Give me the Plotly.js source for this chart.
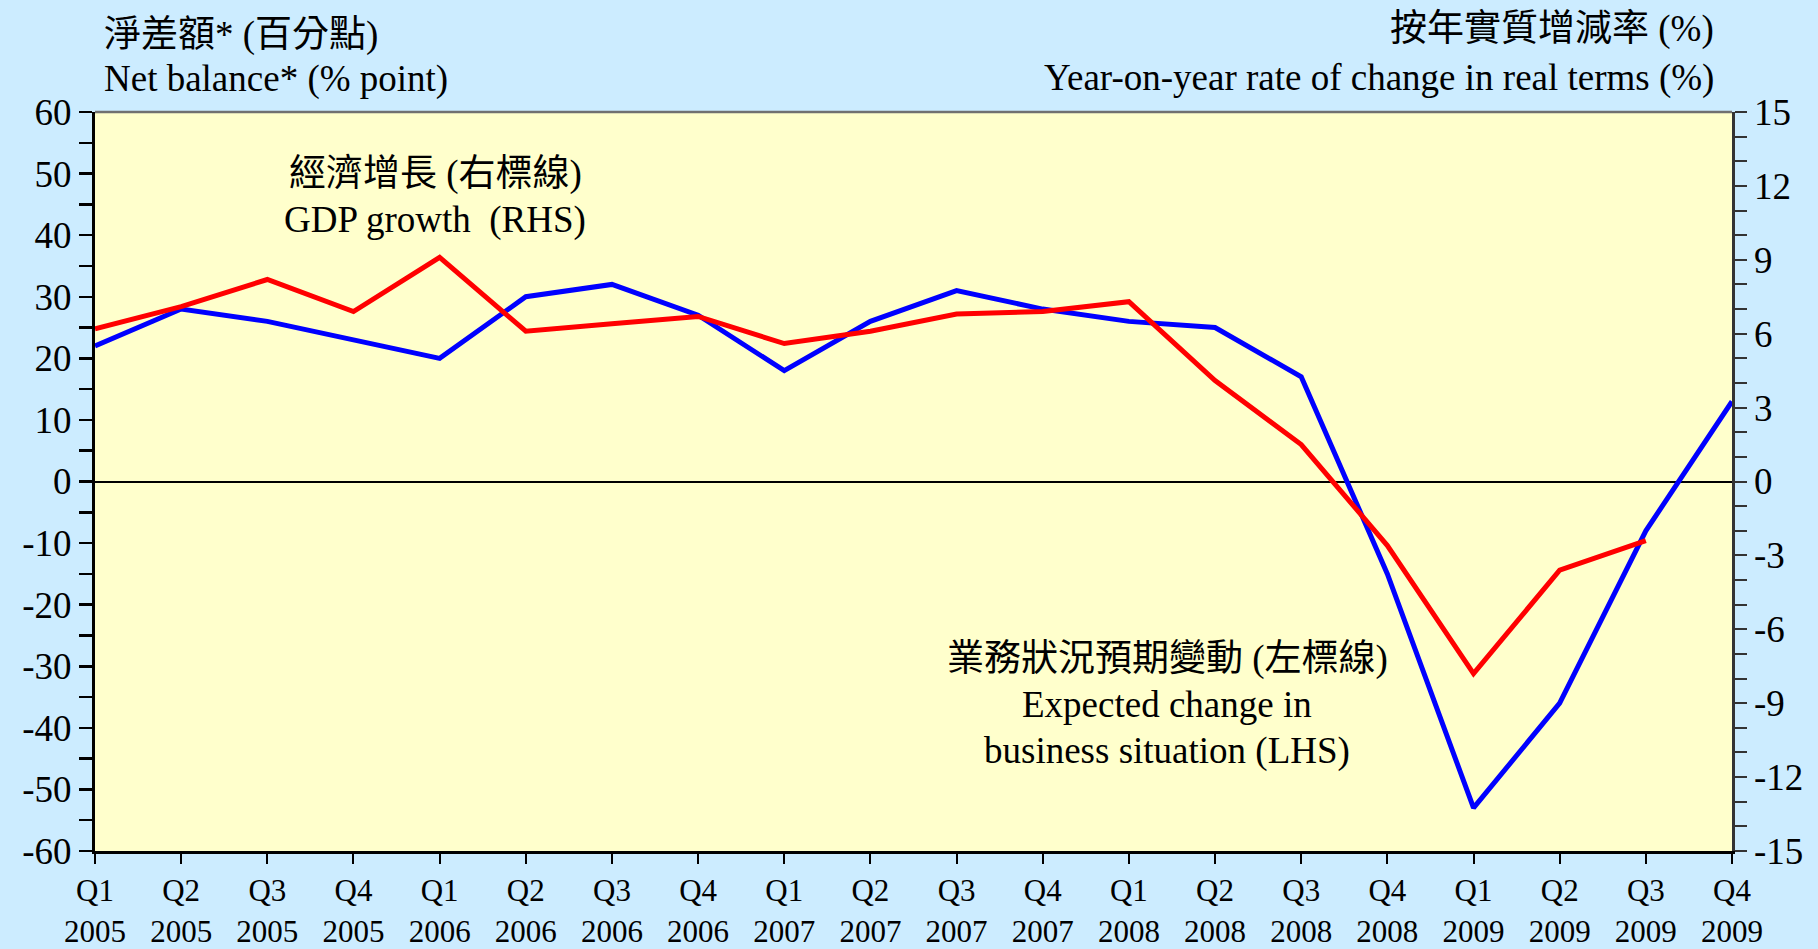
<!DOCTYPE html>
<html>
<head>
<meta charset="utf-8">
<script src="https://cdn.plot.ly/plotly-3.0.1.min.js"></script>
<style>
  html, body { margin: 0; padding: 0; background: #CCECFF; }
  #chart { width: 1818px; height: 949px; }
</style>
</head>
<body>
<div id="chart"></div>
<script>
// ---- Data ----
const quarters = ["Q1","Q2","Q3","Q4","Q1","Q2","Q3","Q4","Q1","Q2","Q3","Q4","Q1","Q2","Q3","Q4","Q1","Q2","Q3","Q4"];
const years = ["2005","2005","2005","2005","2006","2006","2006","2006","2007","2007","2007","2007","2008","2008","2008","2008","2009","2009","2009","2009"];
// Expected change in business situation, net balance (% point), LHS
const businessNet = [22, 28, 26, 23, 20, 30, 32, 27, 18, 26, 31, 28, 26, 25, 17, -15, -53, -36, -8, 13];
// GDP growth, year-on-year real (%), RHS
const gdpGrowth = [6.2, 7.1, 8.2, 6.9, 9.1, 6.1, 6.4, 6.7, 5.6, 6.1, 6.8, 6.9, 7.3, 4.1, 1.5, -2.6, -7.8, -3.6, -2.4];
const leftTicks = [60, 50, 40, 30, 20, 10, 0, -10, -20, -30, -40, -50, -60];
const rightTicks = [15, 12, 9, 6, 3, 0, -3, -6, -9, -12, -15];

const idx = quarters.map((q, i) => i);
const xLabels = quarters.map((q, i) => q + "<br>" + years[i]);

const FONT = "Liberation Serif, Times New Roman, Noto Sans CJK TC, serif";

const traces = [
  {
    x: idx.slice(0, gdpGrowth.length), y: gdpGrowth, yaxis: "y2",
    type: "scatter", mode: "lines", name: "GDP growth (RHS)",
    line: { color: "#FF0000", width: 5 }
  },
  {
    x: idx, y: businessNet, yaxis: "y",
    type: "scatter", mode: "lines", name: "Expected change in business situation (LHS)",
    line: { color: "#0000FF", width: 5 }
  }
];

function ann(text, xp, yp, anchor, size) {
  return { text: text, x: xp, y: yp, xref: "paper", yref: "paper",
           xanchor: anchor, yanchor: "middle", showarrow: false,
           font: { family: FONT, size: size || 37, color: "#000" } };
}

const layout = {
  width: 1818, height: 949,
  paper_bgcolor: "#CCECFF",
  plot_bgcolor: "#FFFFCC",
  margin: { l: 95, r: 86, t: 112, b: 98 },
  showlegend: false,
  font: { family: FONT, color: "#000" },
  xaxis: {
    range: [0, quarters.length - 1],
    tickmode: "array", tickvals: idx, ticktext: xLabels,
    ticks: "outside", ticklen: 10, tickwidth: 2, tickcolor: "#000",
    tickfont: { family: FONT, size: 31, color: "#000" },
    showline: true, linecolor: "#000", linewidth: 3,
    showgrid: false, zeroline: false, fixedrange: true
  },
  yaxis: {
    range: [-60, 60],
    tickmode: "array", tickvals: leftTicks, ticktext: leftTicks.map(String),
    ticks: "outside", ticklen: 13, tickwidth: 2.5, tickcolor: "#000",
    minor: { tickmode: "linear", tick0: -60, dtick: 5, ticks: "outside", ticklen: 13, tickwidth: 2.5, tickcolor: "#000", showgrid: false },
    tickfont: { family: FONT, size: 37, color: "#000" },
    showline: true, linecolor: "#000", linewidth: 3,
    showgrid: false, zeroline: true, zerolinecolor: "#000", zerolinewidth: 2,
    fixedrange: true
  },
  yaxis2: {
    range: [-15, 15], overlaying: "y", side: "right",
    tickmode: "array", tickvals: rightTicks, ticktext: rightTicks.map(String),
    ticks: "outside", ticklen: 12, tickwidth: 2, tickcolor: "#333",
    minor: { tickmode: "linear", tick0: -15, dtick: 1, ticks: "outside", ticklen: 12, tickwidth: 2, tickcolor: "#333", showgrid: false },
    tickfont: { family: FONT, size: 37, color: "#000" },
    showline: true, linecolor: "#333", linewidth: 2.5,
    showgrid: false, zeroline: false, fixedrange: true
  },
  shapes: [
    { type: "line", xref: "paper", yref: "paper", x0: 0, x1: 1, y0: 1, y1: 1,
      line: { color: "#707070", width: 2.5 } }
  ],
  annotations: [
    ann("淨差額* (百分點)", 0.0043, 1.1042, "left"),
    ann("Net balance* (% point)", 0.0043, 1.0447, "left"),
    ann("按年實質增減率 (%)", 0.9902, 1.1123, "right"),
    ann("Year-on-year rate of change in real terms (%)", 0.9902, 1.046, "right"),
    ann("經濟增長 (右標線)", 0.2077, 0.9161, "center"),
    ann("GDP growth&nbsp; (RHS)", 0.2077, 0.8539, "center"),
    ann("業務狀況預期變動 (左標線)", 0.6549, 0.2598, "center"),
    ann("Expected change in", 0.6549, 0.1976, "center"),
    ann("business situation (LHS)", 0.6549, 0.1353, "center")
  ]
};

Plotly.newPlot("chart", traces, layout, { displayModeBar: false, staticPlot: true });
</script>
</body>
</html>
